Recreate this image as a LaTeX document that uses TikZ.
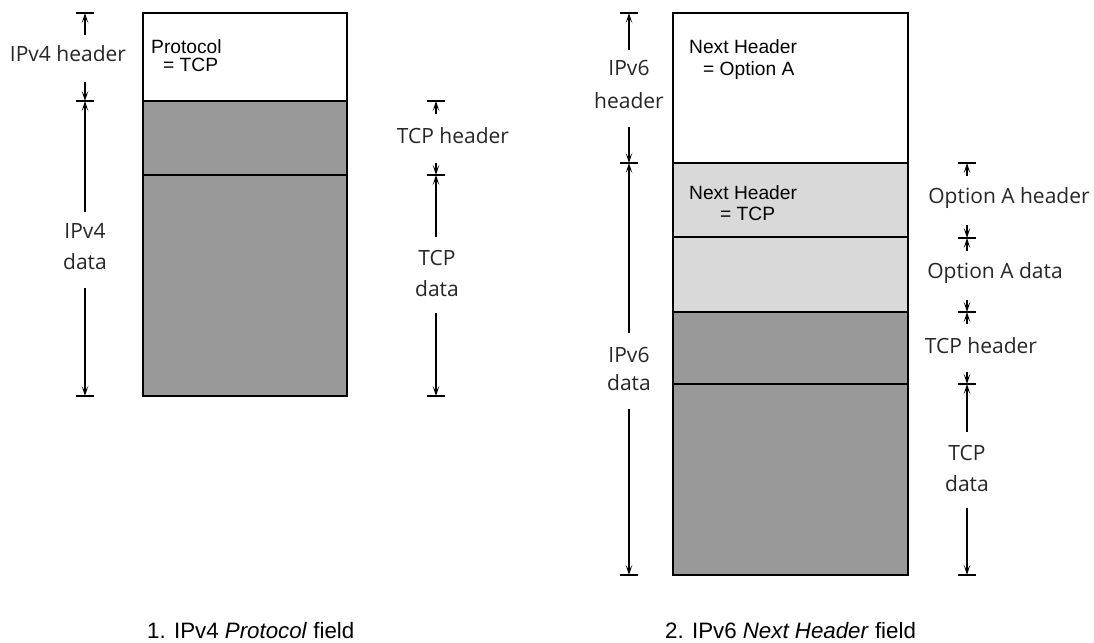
\documentclass[tikz,border=0pt]{standalone}
\usepackage{fontspec}
\setmainfont{Liberation Sans}
\newfontfamily\lblfont{Open Sans}
\usetikzlibrary{arrows.meta}
\definecolor{darkg}{RGB}{153,153,153}
\definecolor{lightg}{RGB}{217,217,217}
\begin{document}
\begin{tikzpicture}[x=1pt,y=-1pt,
  box/.style={draw=black,line width=1.2pt},
  sep/.style={draw=black,line width=1.2pt},
  dim/.style={line width=1.1pt,-{Stealth[length=10pt,width=6.5pt,inset=5pt]}},
  tck/.style={line width=1.1pt},
  lbl/.style={font=\lblfont\fontsize{21}{25}\selectfont, text=black!85, inner sep=0pt, anchor=base},
  inbox/.style={font=\fontsize{19.2}{23}\selectfont, anchor=base west, inner sep=0pt},
  captext/.style={font=\fontsize{22.3}{26}\selectfont, anchor=base west, inner sep=0pt}]
\useasboundingbox (0,0) rectangle (1094,642);
\newcommand\tickat[2]{\draw[tck] (#1-9,#2) -- (#1+9,#2);}

% ---------- left packet ----------
\fill[white] (143,13) rectangle (347,101);
\fill[darkg] (143,101) rectangle (347,396);
\draw[box] (143,13) rectangle (347,396);
\draw[sep] (143,101) -- (347,101);
\draw[sep] (143,175) -- (347,175);
\node[inbox] (p1) at (151,53) {Protocol};
\node[inbox] (p2) at (163,71) {= TCP};

% IPv4 dimension
\coordinate (a0) at (85,13); \coordinate (a1) at (85,101); \coordinate (a2) at (85,396);
\tickat{85}{13} \tickat{85}{101} \tickat{85}{396}
\draw[dim] (85,35) -- (a0);
\draw[dim] (85,82) -- (a1);
\draw[dim] (85,212) -- (a1);
\draw[dim] (85,288) -- (a2);
\node[lbl] (l1) at (68,62) {IPv4 header};
\node[lbl] (l2) at (85,238) {IPv4};
\node[lbl] (l3) at (85,269) {data};

% TCP dimension (left)
\coordinate (b0) at (436,101); \coordinate (b1) at (436,175); \coordinate (b2) at (436,396);
\tickat{436}{101} \tickat{436}{175} \tickat{436}{396}
\draw[dim] (436,114) -- (b0);
\draw[dim] (436,163) -- (b1);
\draw[dim] (436,237) -- (b1);
\draw[dim] (436,313) -- (b2);
\node[lbl] (l4) at (453,143) {TCP header};
\node[lbl] (l5) at (437,265) {TCP};
\node[lbl] (l6) at (437,296) {data};

% ---------- right packet ----------
\fill[white] (673,13) rectangle (908,163);
\fill[lightg] (673,163) rectangle (908,312);
\fill[darkg] (673,312) rectangle (908,575);
\draw[box] (673,13) rectangle (908,575);
\draw[sep] (673,163) -- (908,163);
\draw[sep] (673,237) -- (908,237);
\draw[sep] (673,312) -- (908,312);
\draw[sep] (673,384) -- (908,384);
\node[inbox] (q1) at (689,54) {Next Header};
\node[inbox] (q2) at (703,75) {= Option A};
\node[inbox] (q3) at (689,199) {Next Header};
\node[inbox] (q4) at (720,220) {= TCP};

% IPv6 dimension
\coordinate (c0) at (629,13); \coordinate (c1) at (629,163); \coordinate (c2) at (629,575);
\tickat{629}{13} \tickat{629}{163} \tickat{629}{575}
\draw[dim] (629,50) -- (c0);
\draw[dim] (629,127) -- (c1);
\draw[dim] (629,333) -- (c1);
\draw[dim] (629,409) -- (c2);
\node[lbl] (m1) at (629,75) {IPv6};
\node[lbl] (m2) at (629,108) {header};
\node[lbl] (m3) at (629,362) {IPv6};
\node[lbl] (m4) at (629,390) {data};

% right dimensions
\coordinate (d0) at (967,163); \coordinate (d1) at (967,238); \coordinate (d2) at (967,312);
\coordinate (d3) at (967,384); \coordinate (d4) at (967,575);
\tickat{967}{163} \tickat{967}{238} \tickat{967}{312} \tickat{967}{384} \tickat{967}{575}
\draw[dim] (967,176) -- (d0);
\draw[dim] (967,225) -- (d1);
\draw[dim] (967,251) -- (d1);
\draw[dim] (967,300) -- (d2);
\draw[dim] (967,324) -- (d2);
\draw[dim] (967,372) -- (d3);
\draw[dim] (967,432) -- (d3);
\draw[dim] (967,508) -- (d4);
\node[lbl] (n1) at (1009,203) {Option A header};
\node[lbl] (n2) at (995,278) {Option A data};
\node[lbl] (n3) at (981,353) {TCP header};
\node[lbl] (n4) at (967,460) {TCP};
\node[lbl] (n5) at (967,491) {data};

% captions
\node[captext] (k1) at (147,638) {1. IPv4 \textit{Protocol} field};
\node[captext] (k2) at (665,638) {2. IPv6 \textit{Next Header} field};
\end{tikzpicture}
\end{document}
